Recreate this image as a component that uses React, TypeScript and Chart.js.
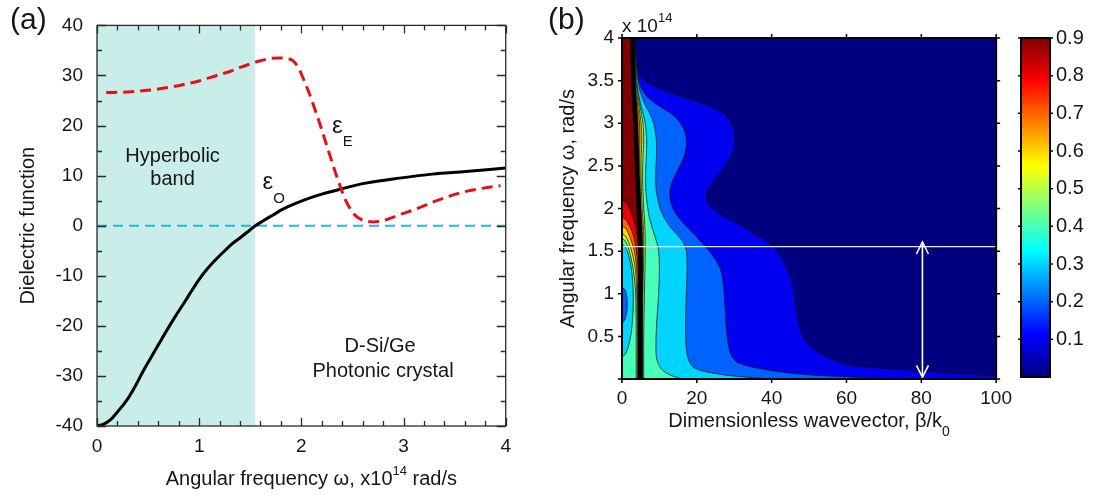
import React, { useEffect, useRef } from 'react';
import { Chart, registerables } from 'chart.js';

Chart.register(...registerables);

const FONT = "'Liberation Sans', Arial, Helvetica, sans-serif";
const INK = '#161616';
Chart.defaults.font.family = FONT;
Chart.defaults.color = INK;

// ---------- (a) dielectric functions of the D-Si/Ge photonic crystal ----------
const OMEGA_O = [0, 0.06, 0.13, 0.2, 0.29, 0.37, 0.45, 0.52, 0.6, 0.68, 0.77, 0.85, 0.93, 1.0, 1.08, 1.17, 1.25, 1.33, 1.42, 1.5, 1.55, 1.62, 1.72, 1.82, 1.95, 2.15, 2.4, 2.63, 2.96, 3.28, 3.61, 4.0];
const EPS_O = [-40, -39.7, -38.8, -37.2, -34.9, -32.2, -29.1, -26.6, -23.8, -21.0, -18.0, -15.5, -12.9, -10.7, -8.6, -6.6, -5.0, -3.5, -2.1, -0.8, 0, 0.9, 2.1, 3.3, 4.5, 6.0, 7.4, 8.5, 9.5, 10.3, 10.8, 11.5];

const OMEGA_E = [0.09, 0.3, 0.52, 0.7, 0.85, 1.0, 1.17, 1.3, 1.4, 1.5, 1.59, 1.7, 1.79, 1.86, 1.92, 1.98, 2.03, 2.08, 2.13, 2.18, 2.23, 2.28, 2.33, 2.38, 2.43, 2.48, 2.53, 2.58, 2.64, 2.7, 2.78, 2.86, 2.96, 3.12, 3.3, 3.45, 3.6, 3.78, 3.95];
const EPS_E = [26.6, 26.7, 27.1, 27.6, 28.2, 28.9, 30.0, 30.8, 31.6, 32.3, 32.9, 33.4, 33.5, 33.4, 32.9, 31.2, 28.8, 26.3, 23.4, 20.4, 17.2, 14.0, 10.8, 7.9, 5.2, 3.3, 2.0, 1.3, 0.9, 0.75, 0.9, 1.4, 2.2, 3.3, 4.8, 5.9, 6.8, 7.5, 8.0];

const ZERO_LINE = [0, 4];
const HYPERBOLIC_BAND = [0, 1.55];
const X_RANGE_A = [0, 4];
const Y_RANGE_A = [-40, 40];
const X_STEP_A = { major: 1, minor: 0.2 };
const Y_STEP_A = { major: 10, minor: 5 };

const LABEL_EPS_E = { x: 2.3, y: 18.6 };
const LABEL_EPS_O = { x: 1.62, y: 7.3 };
const LABEL_BAND = { x: 0.74, y: 12.75 };
const LABEL_CRYSTAL = { x: 2.8, y: -25.2 };

// ---------- (b) contour map: boundaries as [omega (1e14 rad/s), beta/k0] ----------
type Pair = [number, number];

// right of the ridge: value >= level lies left of each boundary
const RIGHT_01: Pair[] = [[0, 100], [0.03, 100], [0.06, 90], [0.1, 77], [0.15, 63], [0.2, 58], [0.3, 53], [0.45, 49], [0.7, 47], [1.0, 46], [1.2, 45], [1.35, 43.5], [1.5, 41.5], [1.6, 39], [1.7, 35.5], [1.8, 32], [1.9, 27.5], [2.0, 24.2], [2.1, 22.6], [2.2, 22.8], [2.3, 24], [2.4, 25.8], [2.5, 27.6], [2.6, 29], [2.7, 29.9], [2.8, 30.2], [2.9, 30], [3.0, 29.2], [3.1, 27.5], [3.2, 23.5], [3.3, 17], [3.4, 10.5], [3.5, 6.2], [3.6, 4.5], [3.8, 3.7], [4.0, 3.4]];
const RIGHT_02: Pair[] = [[0, 75], [0.03, 58], [0.06, 47], [0.105, 39], [0.19, 31], [0.3, 29], [0.54, 28], [0.8, 27.6], [1.0, 27.3], [1.2, 26.8], [1.3, 26.2], [1.4, 25], [1.5, 23.3], [1.6, 21.3], [1.7, 19.2], [1.8, 17], [1.9, 15], [2.0, 13.6], [2.1, 12.9], [2.2, 12.8], [2.3, 13.3], [2.4, 14.3], [2.5, 15.5], [2.6, 16.5], [2.7, 17.1], [2.8, 17.2], [2.9, 16.8], [3.0, 15.6], [3.1, 13.5], [3.2, 10], [3.3, 7], [3.4, 5.3], [3.5, 4.5], [3.6, 4.1], [3.8, 3.6], [4.0, 3.3]];
const RIGHT_03: Pair[] = [[0, 40], [0.03, 31], [0.05, 27], [0.1, 21], [0.15, 18.8], [0.25, 17.6], [0.4, 17.1], [0.7, 17], [1.0, 17.2], [1.3, 17.4], [1.5, 17.2], [1.6, 16.4], [1.7, 14.6], [1.8, 12.6], [1.9, 11.2], [2.0, 10.2], [2.2, 9.2], [2.4, 9], [2.6, 9.2], [2.8, 9.2], [3.0, 8.5], [3.1, 7.6], [3.2, 6.4], [3.3, 5.4], [3.4, 4.7], [3.6, 4.0], [3.8, 3.5], [4.0, 3.2]];
const RIGHT_04: Pair[] = [[0, 16], [0.035, 13.5], [0.08, 11.5], [0.125, 10.4], [0.2, 9.5], [0.3, 9.1], [0.6, 9.2], [1.0, 9.8], [1.3, 10], [1.5, 9.8], [1.6, 9.3], [1.7, 8.6], [1.8, 7.9], [1.9, 7.3], [2.0, 6.9], [2.2, 6.4], [2.4, 6.3], [2.6, 6.5], [2.8, 6.6], [3.0, 6.2], [3.1, 5.7], [3.2, 5.1], [3.3, 4.6], [3.4, 4.2], [3.6, 3.8], [3.8, 3.4], [4.0, 3.1]];
const RIGHT_05: Pair[] = [[0, 5.8], [0.5, 5.8], [1.0, 6.0], [1.5, 6.2], [1.8, 6.1], [2.0, 5.8], [2.2, 5.6], [2.4, 5.5], [2.6, 5.6], [2.8, 5.8], [3.0, 5.6], [3.2, 4.8], [3.4, 4.0], [3.6, 3.6], [3.8, 3.3], [4.0, 3.0]];
const RIGHT_06: Pair[] = [[0, 5.5], [0.5, 5.5], [1.0, 5.6], [1.5, 5.8], [1.8, 5.7], [2.0, 5.4], [2.2, 5.2], [2.4, 5.1], [2.6, 5.1], [2.8, 5.3], [3.0, 5.1], [3.2, 4.5], [3.4, 3.8], [3.6, 3.45], [3.8, 3.2], [4.0, 2.95]];
const RIGHT_07: Pair[] = [[0, 5.35], [0.5, 5.35], [1.0, 5.4], [1.5, 5.5], [1.8, 5.4], [2.0, 5.1], [2.2, 4.9], [2.4, 4.8], [2.6, 4.7], [2.8, 4.8], [3.0, 4.7], [3.2, 4.2], [3.4, 3.6], [3.6, 3.3], [3.8, 3.1], [4.0, 2.9]];
const RIGHT_08: Pair[] = [[0, 5.2], [0.5, 5.2], [1.0, 5.25], [1.5, 5.25], [1.8, 5.1], [2.0, 4.8], [2.2, 4.6], [2.4, 4.4], [2.6, 4.3], [2.8, 4.3], [3.0, 4.2], [3.2, 3.9], [3.4, 3.4], [3.6, 3.2], [3.8, 3.0], [4.0, 2.85]];
const PEAK_RIDGE: Pair[] = [[0, 4.9], [0.5, 4.9], [1.0, 4.95], [1.5, 4.9], [1.8, 4.7], [2.0, 4.5], [2.2, 4.3], [2.4, 4.1], [2.6, 3.95], [2.8, 3.8], [3.0, 3.6], [3.2, 3.35], [3.4, 3.1], [3.6, 3.0], [3.8, 2.85], [4.0, 2.75]];

// left of the ridge: pockets of lower value that open onto beta = 0
const LEFT_09: Pair[] = [[0, 4.5], [0.5, 4.5], [1.0, 4.5], [1.3, 4.5], [1.5, 4.4], [1.65, 4.1], [1.8, 3.5], [1.9, 2.9], [2.0, 2.0], [2.07, 1.0], [2.1, 0]];
const LEFT_08: Pair[] = [[0, 4.35], [0.5, 4.35], [1.0, 4.35], [1.3, 4.25], [1.45, 4.0], [1.6, 3.5], [1.72, 2.8], [1.8, 2.0], [1.87, 1.0], [1.9, 0]];
const LEFT_07: Pair[] = [[0, 4.2], [0.5, 4.2], [1.0, 4.15], [1.2, 4.05], [1.35, 3.8], [1.5, 3.3], [1.62, 2.5], [1.72, 1.6], [1.77, 0.9], [1.79, 0]];
const LEFT_06: Pair[] = [[0, 4.05], [0.5, 4.05], [1.0, 3.95], [1.2, 3.75], [1.35, 3.35], [1.5, 2.6], [1.6, 1.8], [1.67, 1.0], [1.71, 0]];
const LEFT_05: Pair[] = [[0, 3.8], [0.5, 3.8], [0.8, 3.75], [1.0, 3.65], [1.15, 3.4], [1.3, 2.95], [1.45, 2.25], [1.55, 1.6], [1.62, 0.85], [1.65, 0]];
const LEFT_04: Pair[] = [[0.26, 0], [0.3, 1.0], [0.4, 1.8], [0.55, 2.5], [0.8, 2.95], [1.0, 3.0], [1.2, 2.75], [1.35, 2.3], [1.45, 1.75], [1.53, 1.1], [1.59, 0]];
const LEFT_03: Pair[] = [[0.65, 0], [0.7, 0.8], [0.8, 1.3], [0.9, 1.4], [1.0, 1.15], [1.05, 0.7], [1.08, 0]];

const GUIDE_OMEGA = 1.552;
const ARROW_BETA = 80.3;
const ARROW_SPAN = [0.02, 1.607];
const X_RANGE_B = [0, 100];
const Y_RANGE_B = [0, 4];
const X_STEP_B = 20;
const Y_STEP_B = 0.5;

// colour of each 0.1-wide band, from [0, 0.1) up to >= 0.9
const JET_BANDS = ['rgb(0,0,128)', 'rgb(0,0,241)', 'rgb(0,99,255)', 'rgb(0,212,255)', 'rgb(71,255,184)', 'rgb(184,255,71)', 'rgb(255,212,0)', 'rgb(255,99,0)', 'rgb(241,0,0)', 'rgb(128,0,0)'];
const JET_STOPS: [number, string][] = [[0, 'rgb(0,0,128)'], [0.125, 'rgb(0,0,255)'], [0.375, 'rgb(0,255,255)'], [0.625, 'rgb(255,255,0)'], [0.875, 'rgb(255,0,0)'], [1, 'rgb(128,0,0)']];
const COLORBAR_RANGE = [0, 0.9];
const COLORBAR_STEP = 0.1;

// ---------- helpers ----------
type Run = { text: string; size: number; dy?: number };
function drawRuns(ctx: CanvasRenderingContext2D, runs: Run[], x: number, y: number, align: 'left' | 'center' = 'left') {
  const widths = runs.map((r) => {
    ctx.font = `${r.size}px ${FONT}`;
    return ctx.measureText(r.text).width;
  });
  const total = widths.reduce((s, w) => s + w, 0);
  let cx = align === 'center' ? x - total / 2 : x;
  ctx.textAlign = 'left';
  ctx.textBaseline = 'alphabetic';
  runs.forEach((r, i) => {
    ctx.font = `${r.size}px ${FONT}`;
    ctx.fillText(r.text, cx, y + (r.dy ?? 0));
    cx += widths[i];
  });
}

const toXY = (pairs: Pair[]) => pairs.map(([w, b]) => ({ x: b, y: w }));
const near = (v: number, step: number) => Math.abs(v / step - Math.round(v / step)) < 1e-6;

// ---------- panel (a) ----------
const panelAPlugin = {
  id: 'panelA',
  afterDraw(chart: any) {
    const { ctx, chartArea: a, scales } = chart;
    const x = scales.x;
    const y = scales.y;
    ctx.save();
    ctx.strokeStyle = '#2a2a2a';
    ctx.lineWidth = 1.3;
    ctx.strokeRect(a.left, a.top, a.right - a.left, a.bottom - a.top);
    ctx.beginPath();
    x.ticks.forEach((t: any) => {
      const p = Math.round(x.getPixelForValue(t.value)) + 0.5;
      const len = t.label ? 8 : 5;
      ctx.moveTo(p, a.bottom); ctx.lineTo(p, a.bottom - len);
      ctx.moveTo(p, a.top); ctx.lineTo(p, a.top + len);
    });
    y.ticks.forEach((t: any) => {
      const p = Math.round(y.getPixelForValue(t.value)) + 0.5;
      const len = t.label ? 9 : 5;
      ctx.moveTo(a.left, p); ctx.lineTo(a.left + len, p);
      ctx.moveTo(a.right, p); ctx.lineTo(a.right - len, p);
    });
    ctx.stroke();

    ctx.fillStyle = INK;
    drawRuns(ctx, [{ text: '(a)', size: 30 }], 10, 29);
    drawRuns(ctx, [
      { text: 'Angular frequency ω, x10', size: 20 },
      { text: '14', size: 13, dy: -10 },
      { text: ' rad/s', size: 20 },
    ], (a.left + a.right) / 2 + 10, a.bottom + 59, 'center');

    const bx = x.getPixelForValue(LABEL_BAND.x);
    const by = y.getPixelForValue(LABEL_BAND.y);
    drawRuns(ctx, [{ text: 'Hyperbolic', size: 20 }], bx, by, 'center');
    drawRuns(ctx, [{ text: 'band', size: 20 }], bx, by + 23, 'center');

    const cx = x.getPixelForValue(LABEL_CRYSTAL.x);
    const cy = y.getPixelForValue(LABEL_CRYSTAL.y);
    drawRuns(ctx, [{ text: 'D-Si/Ge', size: 20 }], cx - 3, cy, 'center');
    drawRuns(ctx, [{ text: 'Photonic crystal', size: 20 }], cx, cy + 25, 'center');

    drawRuns(ctx, [{ text: 'ε', size: 24 }, { text: 'E', size: 15, dy: 13 }],
      x.getPixelForValue(LABEL_EPS_E.x), y.getPixelForValue(LABEL_EPS_E.y));
    drawRuns(ctx, [{ text: 'ε', size: 24 }, { text: 'O', size: 15, dy: 14 }],
      x.getPixelForValue(LABEL_EPS_O.x), y.getPixelForValue(LABEL_EPS_O.y));
    ctx.restore();
  },
};

function configA(): any {
  return {
    type: 'line',
    data: {
      datasets: [
        {
          data: HYPERBOLIC_BAND.map((v) => ({ x: v, y: Y_RANGE_A[1] })),
          fill: 'start',
          backgroundColor: 'rgb(201,237,232)',
          borderWidth: 0,
          order: 10,
        },
        {
          data: ZERO_LINE.map((v) => ({ x: v, y: 0 })),
          borderColor: '#27b3e4',
          borderWidth: 2,
          borderDash: [10, 6],
          fill: false,
          order: 4,
        },
        {
          data: OMEGA_O.map((w, i) => ({ x: w, y: EPS_O[i] })),
          borderColor: '#000',
          borderWidth: 3,
          fill: false,
          cubicInterpolationMode: 'monotone',
          order: 3,
        },
        {
          data: OMEGA_E.map((w, i) => ({ x: w, y: EPS_E[i] })),
          borderColor: '#e3101a',
          borderWidth: 3,
          borderDash: [11, 6],
          fill: false,
          cubicInterpolationMode: 'monotone',
          order: 2,
        },
      ],
    },
    options: {
      animation: false,
      responsive: false,
      layout: { padding: { left: 0, top: 15, right: 13, bottom: 0 } },
      elements: { point: { radius: 0 } },
      plugins: { legend: { display: false }, tooltip: { enabled: false } },
      scales: {
        x: {
          type: 'linear',
          min: X_RANGE_A[0],
          max: X_RANGE_A[1],
          grid: { display: false, drawTicks: false },
          border: { display: false },
          ticks: {
            stepSize: X_STEP_A.minor,
            autoSkip: false,
            maxRotation: 0,
            padding: 9,
            color: INK,
            font: { size: 19, family: FONT },
            callback: (v: number) => (near(v, X_STEP_A.major) ? String(Math.round(v)) : ''),
          },
          afterFit: (s: any) => { s.height = 69; },
        },
        y: {
          type: 'linear',
          min: Y_RANGE_A[0],
          max: Y_RANGE_A[1],
          grid: { display: false, drawTicks: false },
          border: { display: false },
          ticks: {
            stepSize: Y_STEP_A.minor,
            autoSkip: false,
            padding: 14,
            color: INK,
            font: { size: 19, family: FONT },
            callback: (v: number) => (near(v, Y_STEP_A.major) ? String(Math.round(v)) : ''),
          },
          title: {
            display: true,
            text: 'Dielectric function',
            color: INK,
            font: { size: 20, family: FONT },
            padding: { top: 16, bottom: 0 },
          },
          afterFit: (s: any) => { s.width = 97; },
        },
      },
    },
    plugins: [panelAPlugin],
  };
}

// ---------- panel (b) ----------
const panelBPlugin = {
  id: 'panelB',
  beforeDatasetsDraw(chart: any) {
    const { ctx, chartArea: a } = chart;
    ctx.save();
    ctx.fillStyle = JET_BANDS[0];
    ctx.fillRect(a.left, a.top, a.right - a.left, a.bottom - a.top);
    ctx.restore();
  },
  afterDatasetsDraw(chart: any) {
    const { ctx, scales } = chart;
    const px = scales.x.getPixelForValue(ARROW_BETA);
    const top = scales.y.getPixelForValue(ARROW_SPAN[1]);
    const bottom = scales.y.getPixelForValue(ARROW_SPAN[0]);
    ctx.save();
    ctx.strokeStyle = '#fff';
    ctx.lineWidth = 1.6;
    ctx.beginPath();
    ctx.moveTo(px - 6, top + 12); ctx.lineTo(px, top); ctx.lineTo(px + 6, top + 12);
    ctx.moveTo(px - 6, bottom - 12); ctx.lineTo(px, bottom); ctx.lineTo(px + 6, bottom - 12);
    ctx.stroke();
    ctx.restore();
  },
  afterDraw(chart: any) {
    const { ctx, chartArea: a, scales } = chart;
    const x = scales.x;
    const y = scales.y;
    ctx.save();
    ctx.strokeStyle = '#000';
    ctx.lineWidth = 2;
    ctx.strokeRect(a.left, a.top, a.right - a.left, a.bottom - a.top);
    ctx.lineWidth = 1.5;
    ctx.beginPath();
    x.ticks.forEach((t: any) => {
      const p = x.getPixelForValue(t.value);
      ctx.moveTo(p, a.bottom); ctx.lineTo(p, a.bottom + 4);
      ctx.moveTo(p, a.top); ctx.lineTo(p, a.top - 4);
    });
    y.ticks.forEach((t: any) => {
      const p = y.getPixelForValue(t.value);
      ctx.moveTo(a.left, p); ctx.lineTo(a.left - 4, p);
      ctx.moveTo(a.right, p); ctx.lineTo(a.right + 4, p);
    });
    ctx.stroke();

    ctx.fillStyle = INK;
    drawRuns(ctx, [{ text: '(b)', size: 30 }], 28, 29);
    drawRuns(ctx, [{ text: 'x 10', size: 19 }, { text: '14', size: 13, dy: -10 }], a.left, 32);
    drawRuns(ctx, [
      { text: 'Dimensionless wavevector, β/k', size: 20 },
      { text: '0', size: 14, dy: 9 },
    ], (a.left + a.right) / 2, a.bottom + 48, 'center');
    ctx.restore();
  },
};

const CONTOUR_LINE = 'rgba(20,20,20,0.85)';

function configB(): any {
  const right: [Pair[], number][] = [
    [RIGHT_01, 1], [RIGHT_02, 2], [RIGHT_03, 3], [RIGHT_04, 4],
    [RIGHT_05, 5], [RIGHT_06, 6], [RIGHT_07, 7], [RIGHT_08, 8], [PEAK_RIDGE, 9],
  ];
  const left: [Pair[], number][] = [
    [LEFT_09, 8], [LEFT_08, 7], [LEFT_07, 6], [LEFT_06, 5], [LEFT_05, 4], [LEFT_04, 3], [LEFT_03, 2],
  ];
  const bands: any[] = [];
  right.forEach(([pts, band], i) => {
    bands.push({
      data: toXY(pts),
      fill: 'origin',
      backgroundColor: JET_BANDS[band],
      borderColor: CONTOUR_LINE,
      borderWidth: 0.9,
      order: 100 - i,
    });
  });
  left.forEach(([pts, band], i) => {
    bands.push({
      data: toXY(pts),
      fill: 'origin',
      backgroundColor: JET_BANDS[band],
      borderColor: CONTOUR_LINE,
      borderWidth: 0.9,
      order: 80 - i,
    });
  });
  bands.push({
    data: toXY(PEAK_RIDGE),
    fill: false,
    borderColor: '#000',
    borderWidth: 4.5,
    order: 3,
  });
  bands.push({
    data: [{ x: X_RANGE_B[0], y: GUIDE_OMEGA }, { x: X_RANGE_B[1], y: GUIDE_OMEGA }],
    fill: false,
    borderColor: 'rgba(245,245,245,0.95)',
    borderWidth: 1.3,
    tension: 0,
    order: 2,
  });
  bands.push({
    data: ARROW_SPAN.map((w) => ({ x: ARROW_BETA, y: w })),
    fill: false,
    borderColor: '#fff',
    borderWidth: 1.6,
    tension: 0,
    order: 1,
  });

  return {
    type: 'line',
    data: { datasets: bands },
    options: {
      animation: false,
      responsive: false,
      indexAxis: 'y',
      layout: { padding: { left: 0, top: 38, right: 18, bottom: 0 } },
      elements: { point: { radius: 0 }, line: { tension: 0.3 } },
      plugins: { legend: { display: false }, tooltip: { enabled: false } },
      scales: {
        x: {
          type: 'linear',
          position: 'bottom',
          min: X_RANGE_B[0],
          max: X_RANGE_B[1],
          grid: { display: false, drawTicks: false },
          border: { display: false },
          ticks: {
            stepSize: X_STEP_B,
            maxRotation: 0,
            padding: 8,
            color: INK,
            font: { size: 19, family: FONT },
            callback: (v: number) => String(v),
          },
          afterFit: (s: any) => { s.height = 116; },
        },
        y: {
          type: 'linear',
          position: 'left',
          min: Y_RANGE_B[0],
          max: Y_RANGE_B[1],
          grid: { display: false, drawTicks: false },
          border: { display: false },
          ticks: {
            stepSize: Y_STEP_B,
            autoSkip: false,
            padding: 8,
            color: INK,
            font: { size: 19, family: FONT },
            callback: (v: number) => (v === 0 ? '' : String(v)),
          },
          title: {
            display: true,
            text: 'Angular frequency ω, rad/s',
            color: INK,
            font: { size: 20, family: FONT },
            padding: { top: 36, bottom: 0 },
          },
          afterFit: (s: any) => { s.width = 102; },
        },
      },
    },
    plugins: [panelBPlugin],
  };
}

// ---------- colour bar ----------
function jetGradient(chart: any) {
  const a = chart.chartArea;
  if (!a) return JET_BANDS[0];
  const g = chart.ctx.createLinearGradient(0, a.bottom, 0, a.top);
  JET_STOPS.forEach(([p, c]) => g.addColorStop(p, c));
  return g;
}

const colorbarPlugin = {
  id: 'colorbarFrame',
  afterDraw(chart: any) {
    const { ctx, chartArea: a, scales } = chart;
    const y = scales.y;
    ctx.save();
    ctx.strokeStyle = '#000';
    ctx.lineWidth = 2;
    ctx.strokeRect(a.left, a.top, a.right - a.left, a.bottom - a.top);
    ctx.lineWidth = 1.5;
    ctx.beginPath();
    y.ticks.forEach((t: any) => {
      if (!t.label) return;
      const p = y.getPixelForValue(t.value);
      ctx.moveTo(a.left, p); ctx.lineTo(a.left - 3, p);
      ctx.moveTo(a.right, p); ctx.lineTo(a.right + 3, p);
    });
    ctx.stroke();
    ctx.restore();
  },
};

function configC(): any {
  return {
    type: 'bar',
    data: {
      labels: [''],
      datasets: [{
        data: [COLORBAR_RANGE],
        backgroundColor: (c: any) => jetGradient(c.chart),
        borderWidth: 0,
        barPercentage: 1,
        categoryPercentage: 1,
      }],
    },
    options: {
      animation: false,
      responsive: false,
      layout: { padding: { left: 21, top: 38, right: 0, bottom: 118 } },
      plugins: { legend: { display: false }, tooltip: { enabled: false } },
      scales: {
        x: { display: false },
        y: {
          position: 'right',
          min: COLORBAR_RANGE[0],
          max: COLORBAR_RANGE[1],
          grid: { display: false, drawTicks: false },
          border: { display: false },
          ticks: {
            stepSize: COLORBAR_STEP,
            autoSkip: false,
            padding: 6,
            color: INK,
            font: { size: 20, family: FONT },
            callback: (v: number) => (v < COLORBAR_STEP / 2 ? '' : Number(v).toFixed(1)),
          },
          afterFit: (s: any) => { s.width = 43; },
        },
      },
    },
    plugins: [colorbarPlugin],
  };
}

export default function App() {
  const aRef = useRef<HTMLCanvasElement>(null);
  const bRef = useRef<HTMLCanvasElement>(null);
  const cRef = useRef<HTMLCanvasElement>(null);

  useEffect(() => {
    const charts = [
      new Chart(aRef.current as HTMLCanvasElement, configA()),
      new Chart(bRef.current as HTMLCanvasElement, configB()),
      new Chart(cRef.current as HTMLCanvasElement, configC()),
    ];
    return () => charts.forEach((c) => c.destroy());
  }, []);

  return (
    <div style={{ position: 'fixed', left: 0, top: 0, width: 1093, height: 495, background: '#fff', overflow: 'hidden' }}>
      <canvas ref={aRef} width={520} height={495} style={{ position: 'absolute', left: 0, top: 0 }} />
      <canvas ref={bRef} width={500} height={495} style={{ position: 'absolute', left: 520, top: 0 }} />
      <canvas ref={cRef} width={93} height={495} style={{ position: 'absolute', left: 1000, top: 0 }} />
    </div>
  );
}
